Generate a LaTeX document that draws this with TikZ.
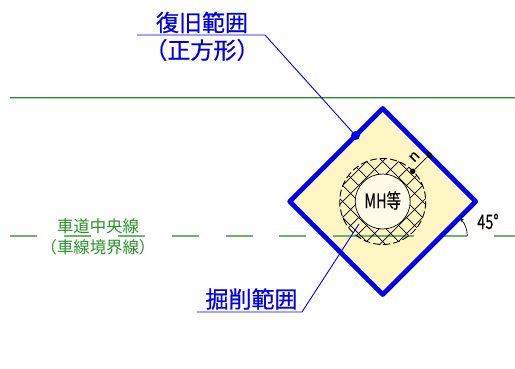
\documentclass[tikz,border=0pt]{standalone}
\usepackage{fontspec}
\newfontfamily\jpfont{Noto Sans CJK JP}
\newfontfamily\jpheavy[FakeBold=.6]{Noto Sans CJK JP}
\newfontfamily\jpmedium[FakeBold=.2]{Noto Sans CJK JP}
\definecolor{roadgreen}{RGB}{45,135,45}
\definecolor{roadlight}{RGB}{170,215,170}
\definecolor{dashgreen}{RGB}{108,180,108}
\definecolor{textgreen}{RGB}{40,145,40}
\definecolor{areablue}{RGB}{0,0,235}
\definecolor{areafill}{RGB}{255,246,196}
\tikzset{
  bluelabel/.style={text=areablue,font=\jpheavy\fontsize{23}{23}\selectfont,inner sep=0pt},
  greenlabel/.style={text=textgreen,font=\jpfont\fontsize{16.4}{17}\selectfont,inner sep=0pt},
  blacklabel/.style={text=black,font=\jpmedium\fontsize{20}{20}\selectfont,inner sep=0pt,xscale=.72},
  leader/.style={areablue,line width=.9pt},
  enddot/.style={circle,fill=black,inner sep=0pt,minimum size=5.5pt}
}
\begin{document}
\begin{tikzpicture}[x=1pt,y=-1pt,line join=round]
	\useasboundingbox (0,0) rectangle (515,369);
	\def\cx{382.7} \def\cy{201.5} % center of the square
	\def\rsq{93} \def\rout{43} \def\rin{27.5}
	% road lines
	\draw[roadlight,line width=1pt] (10,98.6)--(515,98.6);
	\draw[roadgreen,line width=1pt] (10,97.7)--(515,97.7);
	\foreach \xa/\xb in {10/37,64/91,118/145,172/199,226/253,279/306,443/467,494/515}
		\draw[dashgreen,line width=1.5pt] (\xa,236)--(\xb,236);
	% square
	\fill[areafill] (\cx,\cy-\rsq)--(\cx+\rsq,\cy)--(\cx,\cy+\rsq)--(\cx-\rsq,\cy)--cycle;
	\draw[dashgreen,line width=1.5pt] (333,236)--(414,236);
	% hatch
	\begin{scope}
		\clip (\cx,\cy) circle (\rout);
		\foreach \k in {-5,...,5} {
			\draw[black,line width=.7pt] (\cx-60,\cy+\k*16+68)--(\cx+60,\cy+\k*16-52);
			\draw[black,line width=.7pt] (\cx-60,\cy+\k*16-52)--(\cx+60,\cy+\k*16+68);
		}
	\end{scope}
	\draw[black,line width=.9pt,dash pattern=on 7pt off 3pt] (\cx,\cy) circle (\rout);
	\draw[black,line width=.7pt,fill=areafill!40] (\cx,\cy) circle (\rin);
	\draw[areablue,line width=4.8pt] (\cx,\cy-\rsq)--(\cx+\rsq,\cy)--(\cx,\cy+\rsq)--(\cx-\rsq,\cy)--cycle;
	\node[blacklabel] (mh) at (\cx,\cy-1) {MH等};
	% width n
	\node[enddot] (ninner) at (412.7,171.3) {};
	\node[enddot] (nouter) at (429.3,155) {};
	\draw[black,line width=.7pt] (ninner)--(nouter);
	\node[text=black,font=\jpmedium\fontsize{15}{15}\selectfont,inner sep=0pt,rotate=45] (nlabel) at (414.3,156.7) {n};
	% angle
	\draw[black,line width=.7pt,->,>=stealth] (467.3,236) arc (0:-45:25);
	\node[blacklabel] (angle) at (488,221.5) {45°};
	% labels
	\node[bluelabel] (restore) at (202,22.5) {復旧範囲};
	\node[bluelabel] (square) at (202,50) {（正方形）};
	\coordinate (restoreleft) at (137,35);
	\coordinate (restorebend) at (265,35);
	\node[circle,fill=areablue,inner sep=0pt,minimum size=9pt] (restoredot) at (355.5,135.5) {};
	\draw[leader] (restoreleft)--(restorebend)--(restoredot);
	\node[bluelabel] (excav) at (251.5,299) {掘削範囲};
	\coordinate (excavleft) at (197,312);
	\coordinate (excavbend) at (302,312);
	\coordinate (excavend) at (359,224);
	\draw[leader] (excavleft)--(excavbend)--(excavend);
	\node[greenlabel] (center) at (98,226) {車道中央線};
	\node[greenlabel] (border) at (98,247.5) {（車線境界線）};
\end{tikzpicture}
\end{document}
